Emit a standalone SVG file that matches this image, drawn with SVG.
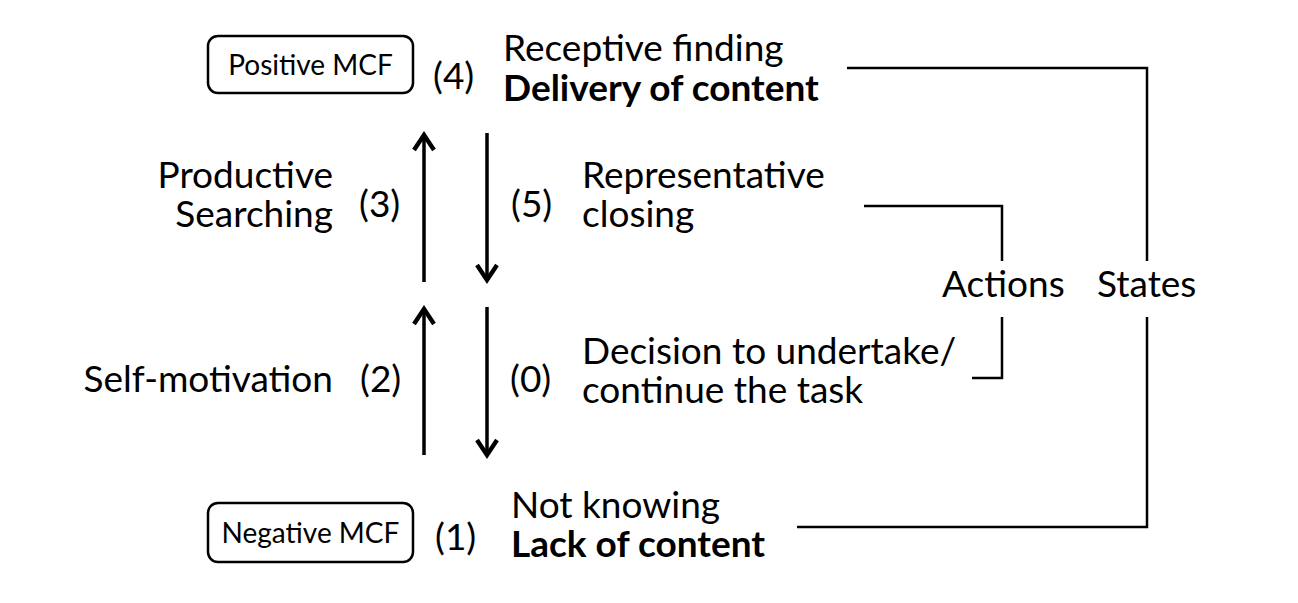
<svg xmlns="http://www.w3.org/2000/svg" width="1298" height="603" viewBox="0 0 1298 603">
<defs>
<style>
.t{font-family:Lato,"Liberation Sans",sans-serif;font-size:37px;fill:#000}
.b{font-weight:bold}
.s{font-family:Lato,"Liberation Sans",sans-serif;font-size:28px;fill:#000}
.box{fill:#fff;stroke:#000;stroke-width:2.5}
.arr{stroke:#000;stroke-width:3.5;fill:none}
.br{stroke:#000;stroke-width:2.5;fill:none}
</style>
<marker id="ah" markerUnits="userSpaceOnUse" markerWidth="30" markerHeight="30" viewBox="-16 -12 20 24" refX="0" refY="0" orient="auto">
<path d="M-12,-8 L0,0 L-12,8" fill="none" stroke="#000" stroke-width="3.5" stroke-linejoin="miter"/>
</marker>
</defs>
<rect width="1298" height="603" fill="#fff"/>

<g id="positive-mcf">
<rect class="box" x="208" y="36" width="205" height="57" rx="10"/>
<text class="s" x="310.5" y="75" text-anchor="middle">Positive MCF</text>
</g>
<g id="negative-mcf">
<rect class="box" x="208" y="503" width="205" height="59" rx="10"/>
<text class="s" x="310.5" y="543" text-anchor="middle">Negative MCF</text>
</g>

<g id="state-4">
<text class="t" x="433" y="89">(4)</text>
<text class="t" x="503" y="61">Receptive finding</text>
<text class="t b" x="503" y="101">Delivery of content</text>
</g>
<g id="state-1">
<text class="t" x="435" y="550">(1)</text>
<text class="t" x="511" y="518">Not knowing</text>
<text class="t b" x="511" y="557">Lack of content</text>
</g>
<g id="action-3">
<text class="t" x="333" y="188" text-anchor="end">Productive</text>
<text class="t" x="333" y="227" text-anchor="end">Searching</text>
<text class="t" x="359" y="217">(3)</text>
</g>
<g id="action-5">
<text class="t" x="511" y="217">(5)</text>
<text class="t" x="582" y="188">Representative</text>
<text class="t" x="582" y="227">closing</text>
</g>
<g id="action-2">
<text class="t" x="333" y="392" text-anchor="end">Self-motivation</text>
<text class="t" x="360" y="392">(2)</text>
</g>
<g id="action-0">
<text class="t" x="510" y="392">(0)</text>
<text class="t" x="582" y="364">Decision to undertake/</text>
<text class="t" x="582" y="403">continue the task</text>
</g>
<g id="actions-label">
<text class="t" x="942" y="297">Actions</text>
</g>
<g id="states-label">
<text class="t" x="1097" y="297">States</text>
</g>

<g id="connectors">
<line class="arr" x1="424" y1="282" x2="424" y2="135" marker-end="url(#ah)"/>
<line class="arr" x1="487" y1="133" x2="487" y2="280" marker-end="url(#ah)"/>
<line class="arr" x1="424" y1="455" x2="424" y2="309" marker-end="url(#ah)"/>
<line class="arr" x1="487" y1="307" x2="487" y2="455" marker-end="url(#ah)"/>
<polyline class="br" points="864,206 1002,206 1002,261"/>
<polyline class="br" points="1002,317 1002,378 972,378"/>
<polyline class="br" points="847,68 1147,68 1147,261"/>
<polyline class="br" points="1147,317 1147,527 797,527"/>
</g>
</svg>
